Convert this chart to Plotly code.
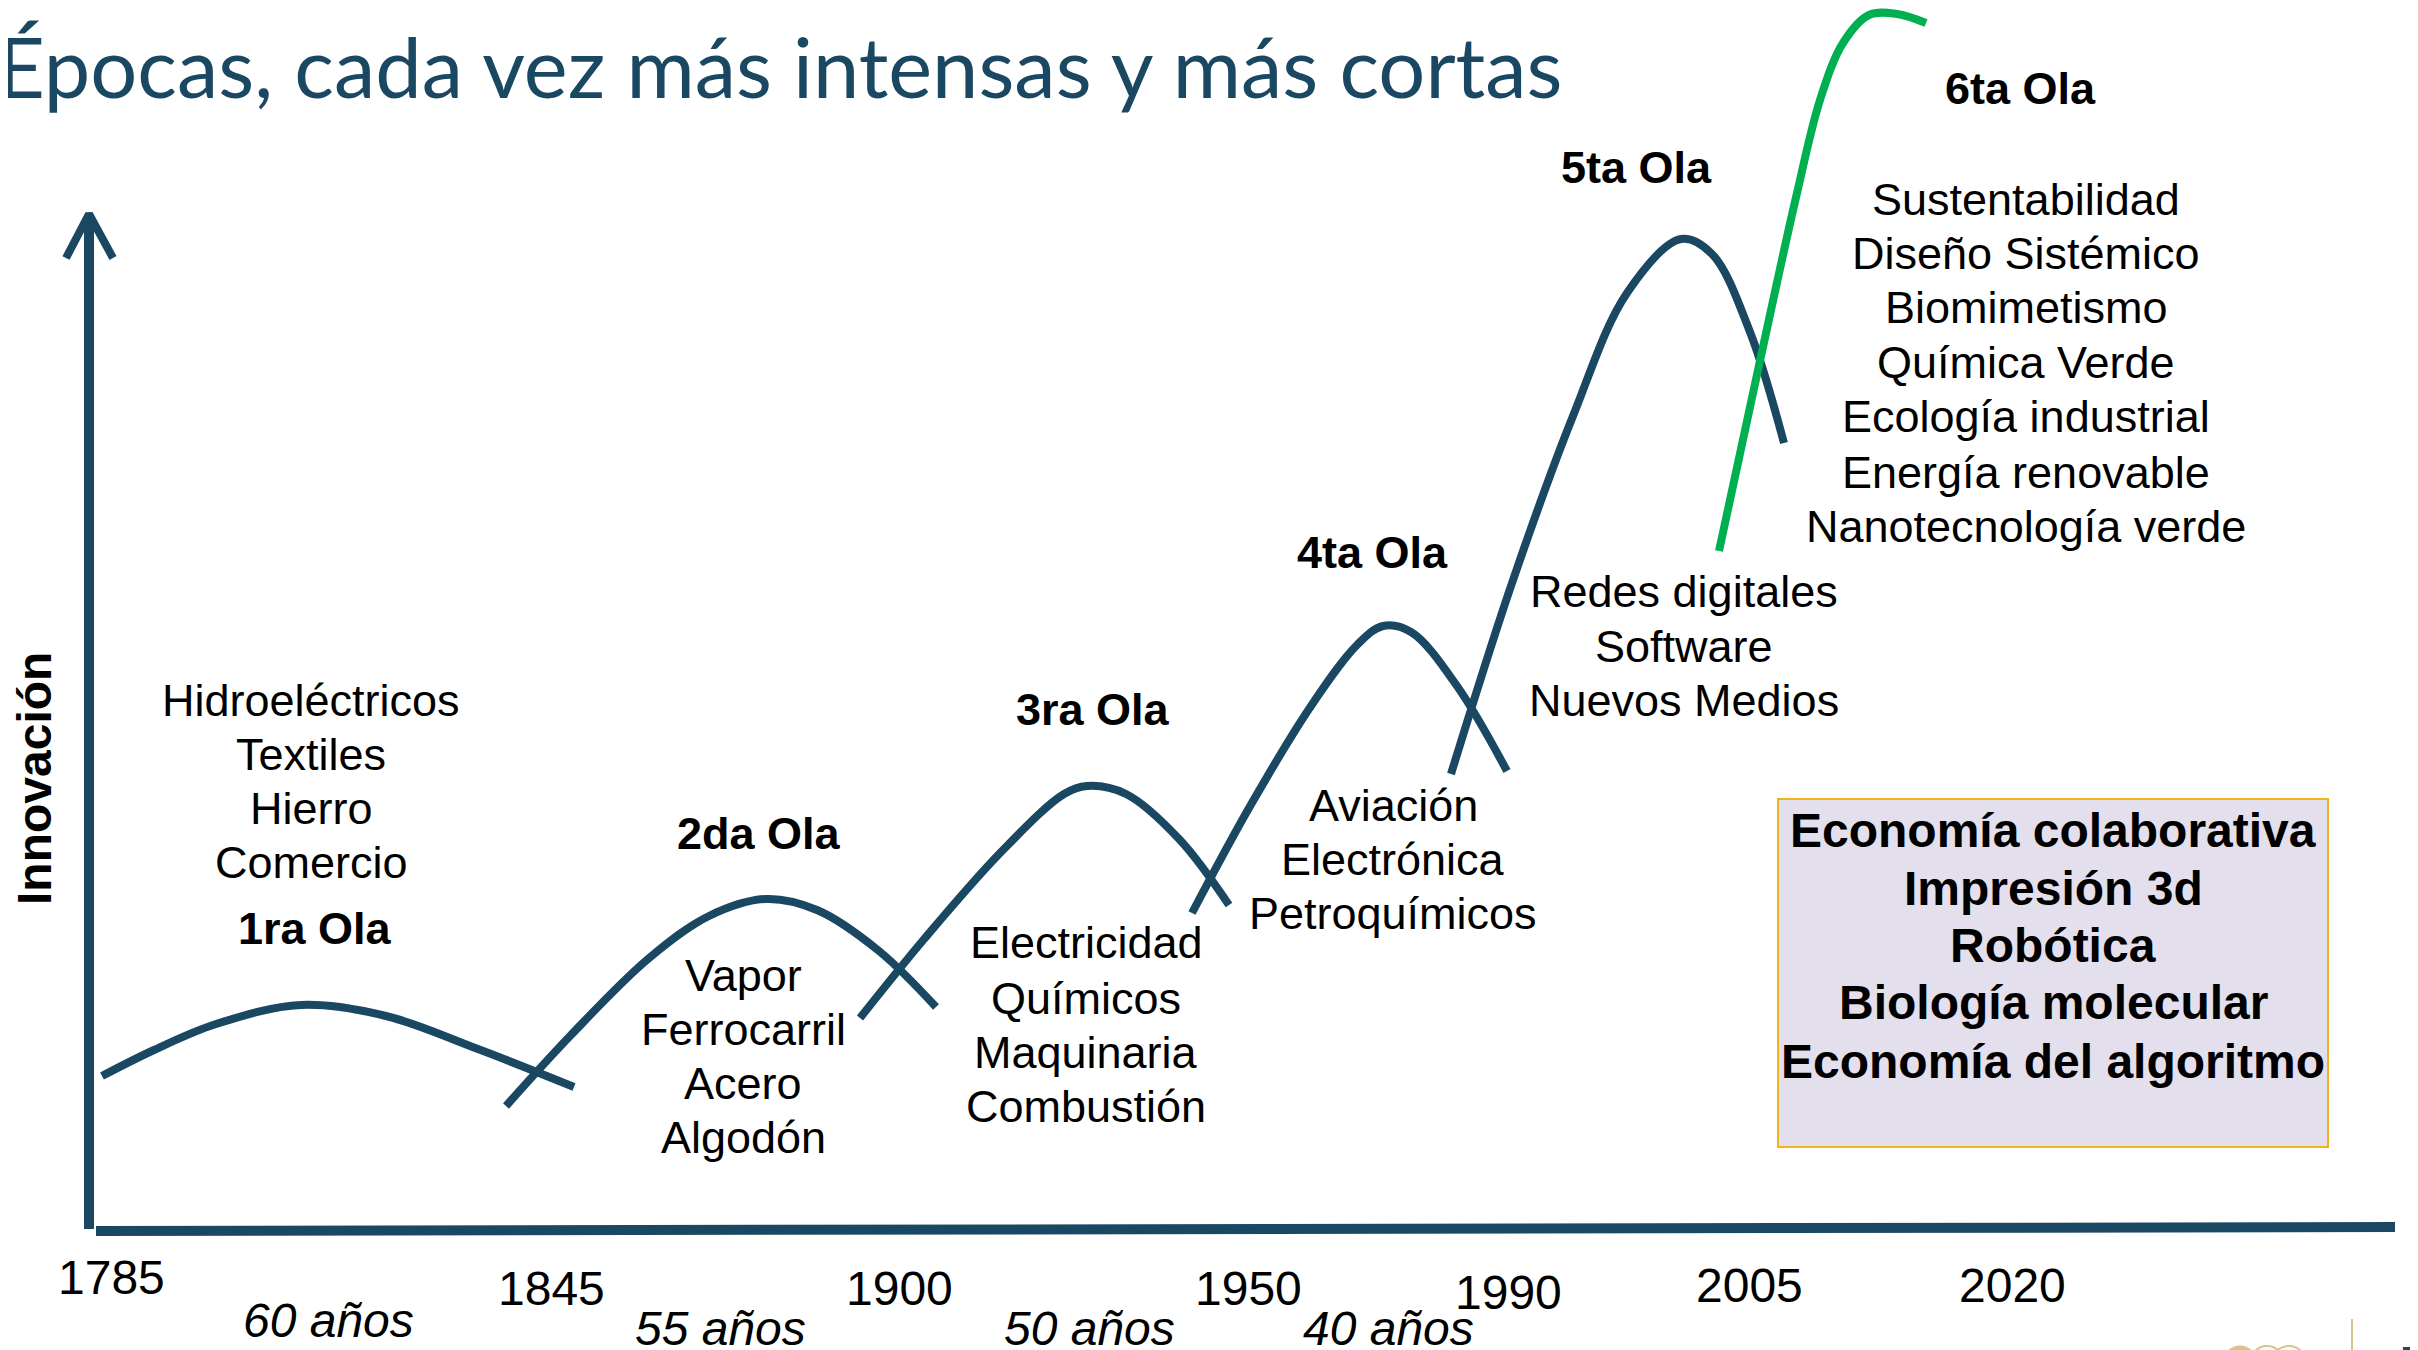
import plotly.graph_objects as go

W, H = 2418, 1350
DARK = "#1a4862"
GREEN = "#00b050"
GOLD = "#d9c48e"

# ---- data (horizontal position, innovation level) ----
wave1_x = [102, 154, 216, 301, 386, 478, 574]
wave1_y = [274, 300, 326, 345, 334, 301, 263]
wave2_x = [506, 571, 648, 709, 766, 817, 879, 936]
wave2_y = [244, 315, 391, 434, 451, 440, 399, 343]
wave3_x = [860, 925, 1002, 1064, 1087, 1126, 1180, 1229]
wave3_y = [332, 412, 499, 556, 564, 556, 510, 445]
wave4_x = [1192, 1249, 1311, 1357, 1383, 1411, 1457, 1507]
wave4_y = [437, 542, 644, 705, 724, 718, 664, 579]
wave5_x = [1451, 1511, 1573, 1627, 1681, 1712, 1750, 1784]
wave5_y = [576, 764, 934, 1057, 1111, 1096, 1018, 907]
wave6_x = [1719, 1758, 1797, 1820, 1843, 1869, 1897, 1926]
wave6_y = [799, 980, 1157, 1250, 1307, 1335, 1336, 1327]

axis_v_x = [89, 89]
axis_v_y = [121, 1134]
arrow_x = [66, 89, 113]
arrow_y = [1092, 1136, 1092]
axis_h_x = [96, 2395]
axis_h_y = [119, 123]

year_labels = ["1785", "1845", "1900", "1950", "1990", "2005", "2020"]
year_x = [111, 551, 899, 1248, 1508, 1749, 2012]
year_y = [73, 62, 62, 62, 58, 65, 65]

dur_labels = ["60 años", "55 años", "50 años", "40 años"]
dur_x = [328, 720, 1089, 1388]
dur_y = [30, 22, 22, 22]

wave_names = ["1ra Ola", "2da Ola", "3ra Ola", "4ta Ola", "5ta Ola", "6ta Ola"]
name_x = [315, 759, 1093, 1372, 1636, 2020]
name_y = [422, 517, 641, 798, 1183, 1262]

wave_items = [
    ["Hidroeléctricos", "Textiles", "Hierro", "Comercio"],
    ["Vapor", "Ferrocarril", "Acero", "Algodón"],
    ["Electricidad", "Químicos", "Maquinaria", "Combustión"],
    ["Aviación", "Electrónica", "Petroquímicos"],
    ["Redes digitales", "Software", "Nuevos Medios"],
    ["Sustentabilidad", "Diseño Sistémico", "Biomimetismo", "Química Verde",
     "Ecología industrial", "Energía renovable", "Nanotecnología verde"],
]
items_x = [311, 743, 1086, 1393, 1684, 2026]
items_y = [
    [650, 596, 542, 488],
    [375, 321, 267, 213],
    [408, 352, 298, 244],
    [545, 491, 437],
    [759, 704, 650],
    [1151, 1097, 1043, 988, 934, 878, 824],
]

box_items = ["Economía colaborativa", "Impresión 3d", "Robótica",
             "Biología molecular", "Economía del algoritmo"]
box_x = 2053
box_y = [520, 462, 405, 348, 289]
box_x0, box_x1, box_y0, box_y1 = 1778, 2328, 203, 551

fig = go.Figure()

def line(x, y, color, width):
    fig.add_trace(go.Scatter(x=x, y=y, mode="lines", line=dict(color=color, width=width),
                             hoverinfo="skip", showlegend=False))

for wx, wy in [(wave1_x, wave1_y), (wave2_x, wave2_y), (wave3_x, wave3_y),
               (wave4_x, wave4_y), (wave5_x, wave5_y)]:
    fig.add_trace(go.Scatter(x=wx, y=wy, mode="lines",
                             line=dict(color=DARK, width=8, shape="spline", smoothing=1.0),
                             hoverinfo="skip", showlegend=False))
fig.add_trace(go.Scatter(x=wave6_x, y=wave6_y, mode="lines",
                         line=dict(color=GREEN, width=8, shape="spline", smoothing=1.0),
                         hoverinfo="skip", showlegend=False))

line(axis_v_x, axis_v_y, DARK, 10)
line(arrow_x, arrow_y, DARK, 8)
line(axis_h_x, axis_h_y, DARK, 10)

fig.add_shape(type="rect", xref="x", yref="y", x0=box_x0, x1=box_x1, y0=box_y0, y1=box_y1,
              fillcolor="#e4dfec", line=dict(color="#f2b41c", width=2), layer="below")

# partial logo in bottom-right corner
fig.add_shape(type="circle", xref="x", yref="y", x0=2223, x1=2257, y0=-30, y1=4,
              fillcolor=GOLD, line=dict(color=GOLD, width=1))
fig.add_shape(type="circle", xref="x", yref="y", x0=2250, x1=2284, y0=-30, y1=4,
              fillcolor="rgba(0,0,0,0)", line=dict(color=GOLD, width=2))
fig.add_shape(type="circle", xref="x", yref="y", x0=2272, x1=2306, y0=-30, y1=4,
              fillcolor="rgba(0,0,0,0)", line=dict(color=GOLD, width=2))
fig.add_shape(type="line", xref="x", yref="y", x0=2352, x1=2352, y0=0, y1=31,
              line=dict(color=GOLD, width=2))

ann = []
BODY = "Liberation Sans, Arial, sans-serif"
NARROW = "Liberation Sans Narrow, Arial Narrow, Liberation Sans, sans-serif"

def txt(x, y, t, size, family=BODY, color="black", xanchor="center", angle=0,
        weight=None, xshift=0, yshift=0):
    f = dict(family=family, size=size, color=color)
    if weight is not None:
        f["weight"] = weight
    ann.append(dict(x=x, y=y, xref="x", yref="y", text=t, showarrow=False,
                    xanchor=xanchor, yanchor="middle", textangle=angle, font=f,
                    xshift=xshift, yshift=yshift))

for lab, x, y in zip(year_labels, year_x, year_y):
    txt(x, y, lab, 48, NARROW)
for lab, x, y in zip(dur_labels, dur_x, dur_y):
    txt(x, y, "<i>" + lab + "</i>", 48, NARROW)
for lab, x, y in zip(wave_names, name_x, name_y):
    txt(x, y, "<b>" + lab + "</b>", 45)
for items, x, ys in zip(wave_items, items_x, items_y):
    for it, y in zip(items, ys):
        txt(x, y, it, 45)
for it, y in zip(box_items, box_y):
    txt(box_x, y, "<b>" + it + "</b>", 48)

txt(34, 571, "<b>Innovación</b>", 48, NARROW, angle=-90)
txt(8, 1284, "Épocas, cada vez más intensas y más cortas", 83, "Lato, sans-serif", DARK,
    xanchor="left", weight=400, xshift=-13)
txt(2398, -8, "<b>M</b>", 44, BODY, DARK, xanchor="left", yshift=-4)

# page body has an 8px default margin: offset ranges so data units map to page pixels
fig.update_layout(
    width=W, height=H, margin=dict(l=0, r=0, t=0, b=0),
    paper_bgcolor="white", plot_bgcolor="white",
    xaxis=dict(range=[8, W + 8], visible=False, fixedrange=True),
    yaxis=dict(range=[-8, H - 8], visible=False, fixedrange=True),
    annotations=ann, showlegend=False,
)

fig.write_html("out.html")
